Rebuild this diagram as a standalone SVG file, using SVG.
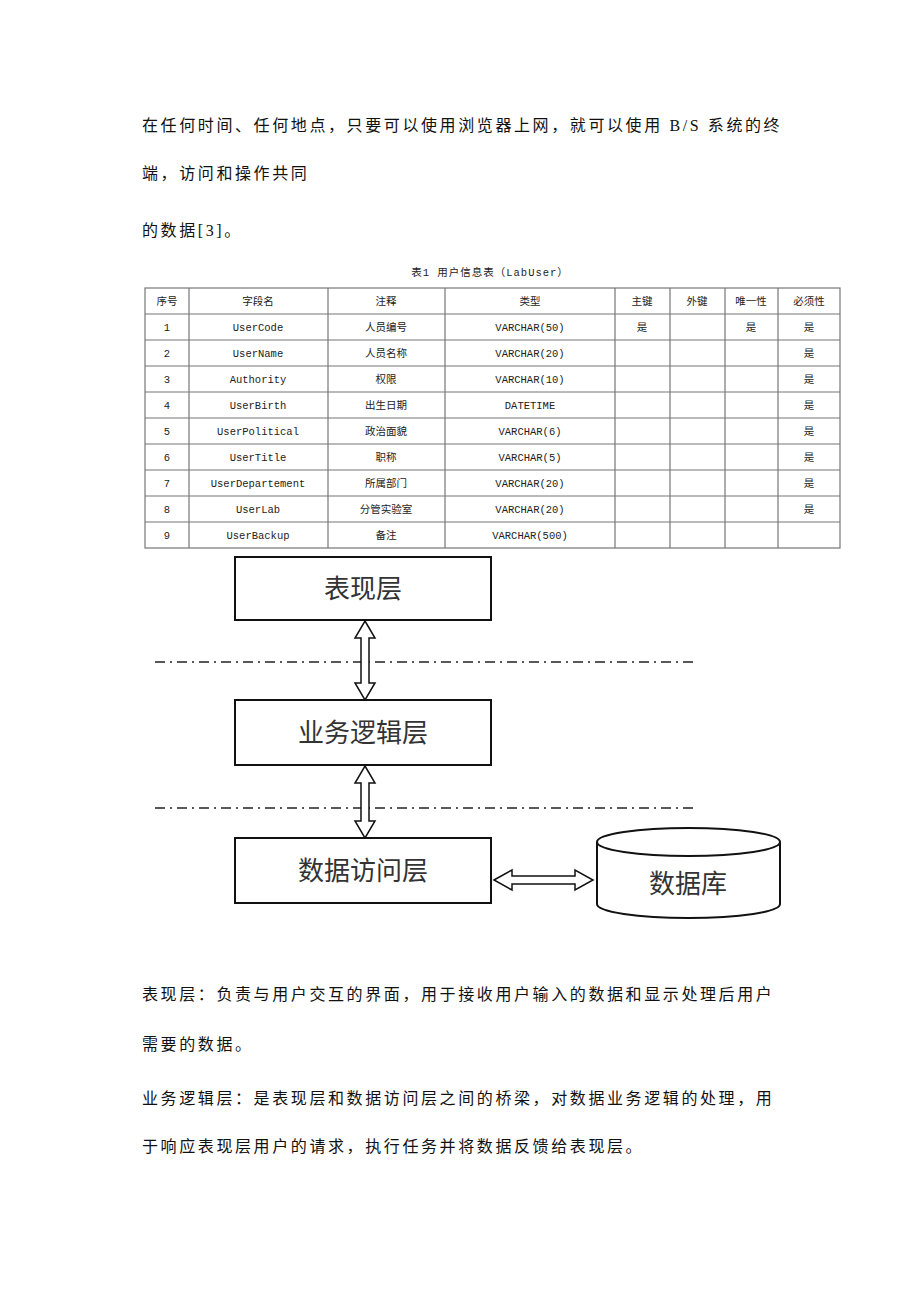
<svg xmlns="http://www.w3.org/2000/svg" width="920" height="1302" viewBox="0 0 920 1302">
<style>
.p{font-family:"Liberation Serif","Noto Sans CJK SC",serif;font-size:16px;fill:#111;letter-spacing:2.6px}
.t{font-family:"Liberation Mono","Noto Sans CJK SC",monospace;font-size:10.5px;fill:#222;text-anchor:middle}
.g{stroke:#777;stroke-width:1.2;fill:none}
.b{fill:#fff;stroke:#111;stroke-width:2}
.n{font-family:"Noto Sans CJK SC",sans-serif;font-size:26px;fill:#333;text-anchor:middle}
.dd{stroke:#222;stroke-width:1.5;stroke-dasharray:10 5 2 5}
.ar{fill:#fff;stroke:#111;stroke-width:1.5}
</style>
<rect width="920" height="1302" fill="#fff"/>
<text class="p" x="142" y="131">在任何时间、任何地点，只要可以使用浏览器上网，就可以使用 B/S 系统的终</text>
<text class="p" x="142" y="179">端，访问和操作共同</text>
<text class="p" x="142" y="236">的数据[3]。</text>
<g id="table">
<text class="t" x="490" y="276" style="letter-spacing:1px">表1  用户信息表（LabUser）</text>
<rect class="g" x="145" y="288" width="695" height="260"/>
<path class="g" d="M189 288V548M328 288V548M445 288V548M615 288V548M670 288V548M725 288V548M778 288V548M145 314H840M145 340H840M145 366H840M145 392H840M145 418H840M145 444H840M145 470H840M145 496H840M145 522H840"/>
<g>
<text class="t" x="167" y="305">序号</text><text class="t" x="258" y="305">字段名</text><text class="t" x="386" y="305">注释</text><text class="t" x="530" y="305">类型</text><text class="t" x="642" y="305">主键</text><text class="t" x="697" y="305">外键</text><text class="t" x="751" y="305">唯一性</text><text class="t" x="809" y="305">必须性</text>
<text class="t" x="167" y="331">1</text><text class="t" x="258" y="331">UserCode</text><text class="t" x="386" y="331">人员编号</text><text class="t" x="530" y="331">VARCHAR(50)</text><text class="t" x="642" y="331">是</text><text class="t" x="751" y="331">是</text><text class="t" x="809" y="331">是</text>
<text class="t" x="167" y="357">2</text><text class="t" x="258" y="357">UserName</text><text class="t" x="386" y="357">人员名称</text><text class="t" x="530" y="357">VARCHAR(20)</text><text class="t" x="809" y="357">是</text>
<text class="t" x="167" y="383">3</text><text class="t" x="258" y="383">Authority</text><text class="t" x="386" y="383">权限</text><text class="t" x="530" y="383">VARCHAR(10)</text><text class="t" x="809" y="383">是</text>
<text class="t" x="167" y="409">4</text><text class="t" x="258" y="409">UserBirth</text><text class="t" x="386" y="409">出生日期</text><text class="t" x="530" y="409">DATETIME</text><text class="t" x="809" y="409">是</text>
<text class="t" x="167" y="435">5</text><text class="t" x="258" y="435">UserPolitical</text><text class="t" x="386" y="435">政治面貌</text><text class="t" x="530" y="435">VARCHAR(6)</text><text class="t" x="809" y="435">是</text>
<text class="t" x="167" y="461">6</text><text class="t" x="258" y="461">UserTitle</text><text class="t" x="386" y="461">职称</text><text class="t" x="530" y="461">VARCHAR(5)</text><text class="t" x="809" y="461">是</text>
<text class="t" x="167" y="487">7</text><text class="t" x="258" y="487">UserDepartement</text><text class="t" x="386" y="487">所属部门</text><text class="t" x="530" y="487">VARCHAR(20)</text><text class="t" x="809" y="487">是</text>
<text class="t" x="167" y="513">8</text><text class="t" x="258" y="513">UserLab</text><text class="t" x="386" y="513">分管实验室</text><text class="t" x="530" y="513">VARCHAR(20)</text><text class="t" x="809" y="513">是</text>
<text class="t" x="167" y="539">9</text><text class="t" x="258" y="539">UserBackup</text><text class="t" x="386" y="539">备注</text><text class="t" x="530" y="539">VARCHAR(500)</text>
</g>
</g>
<g id="connectors">
<line class="dd" x1="155" y1="662" x2="697" y2="662"/>
<line class="dd" x1="155" y1="808" x2="697" y2="808"/>
<path class="ar" d="M365 621L375 638H369V683H375L365 700L355 683H361V638H355Z"/>
<path class="ar" d="M365 766L375 783H369V821H375L365 838L355 821H361V783H355Z"/>
<path class="ar" d="M494 880L512 870V876H575V870L593 880L575 890V884H512V890Z"/>
</g>
<g id="n1"><rect class="b" x="235" y="557" width="256" height="63"/><text class="n" x="363" y="598">表现层</text></g>
<g id="n2"><rect class="b" x="235" y="700" width="256" height="65"/><text class="n" x="363" y="742">业务逻辑层</text></g>
<g id="n3"><rect class="b" x="235" y="838" width="256" height="65"/><text class="n" x="363" y="880">数据访问层</text></g>
<g id="db"><path class="b" d="M597 842V904A91 14 0 0 0 780 904V842A91 14 0 0 0 597 842A91 14 0 0 0 780 842"/><text class="n" x="688" y="893">数据库</text></g>
<text class="p" x="142" y="1000">表现层：负责与用户交互的界面，用于接收用户输入的数据和显示处理后用户</text>
<text class="p" x="142" y="1050">需要的数据。</text>
<text class="p" x="142" y="1104">业务逻辑层：是表现层和数据访问层之间的桥梁，对数据业务逻辑的处理，用</text>
<text class="p" x="142" y="1152">于响应表现层用户的请求，执行任务并将数据反馈给表现层。</text>
</svg>
